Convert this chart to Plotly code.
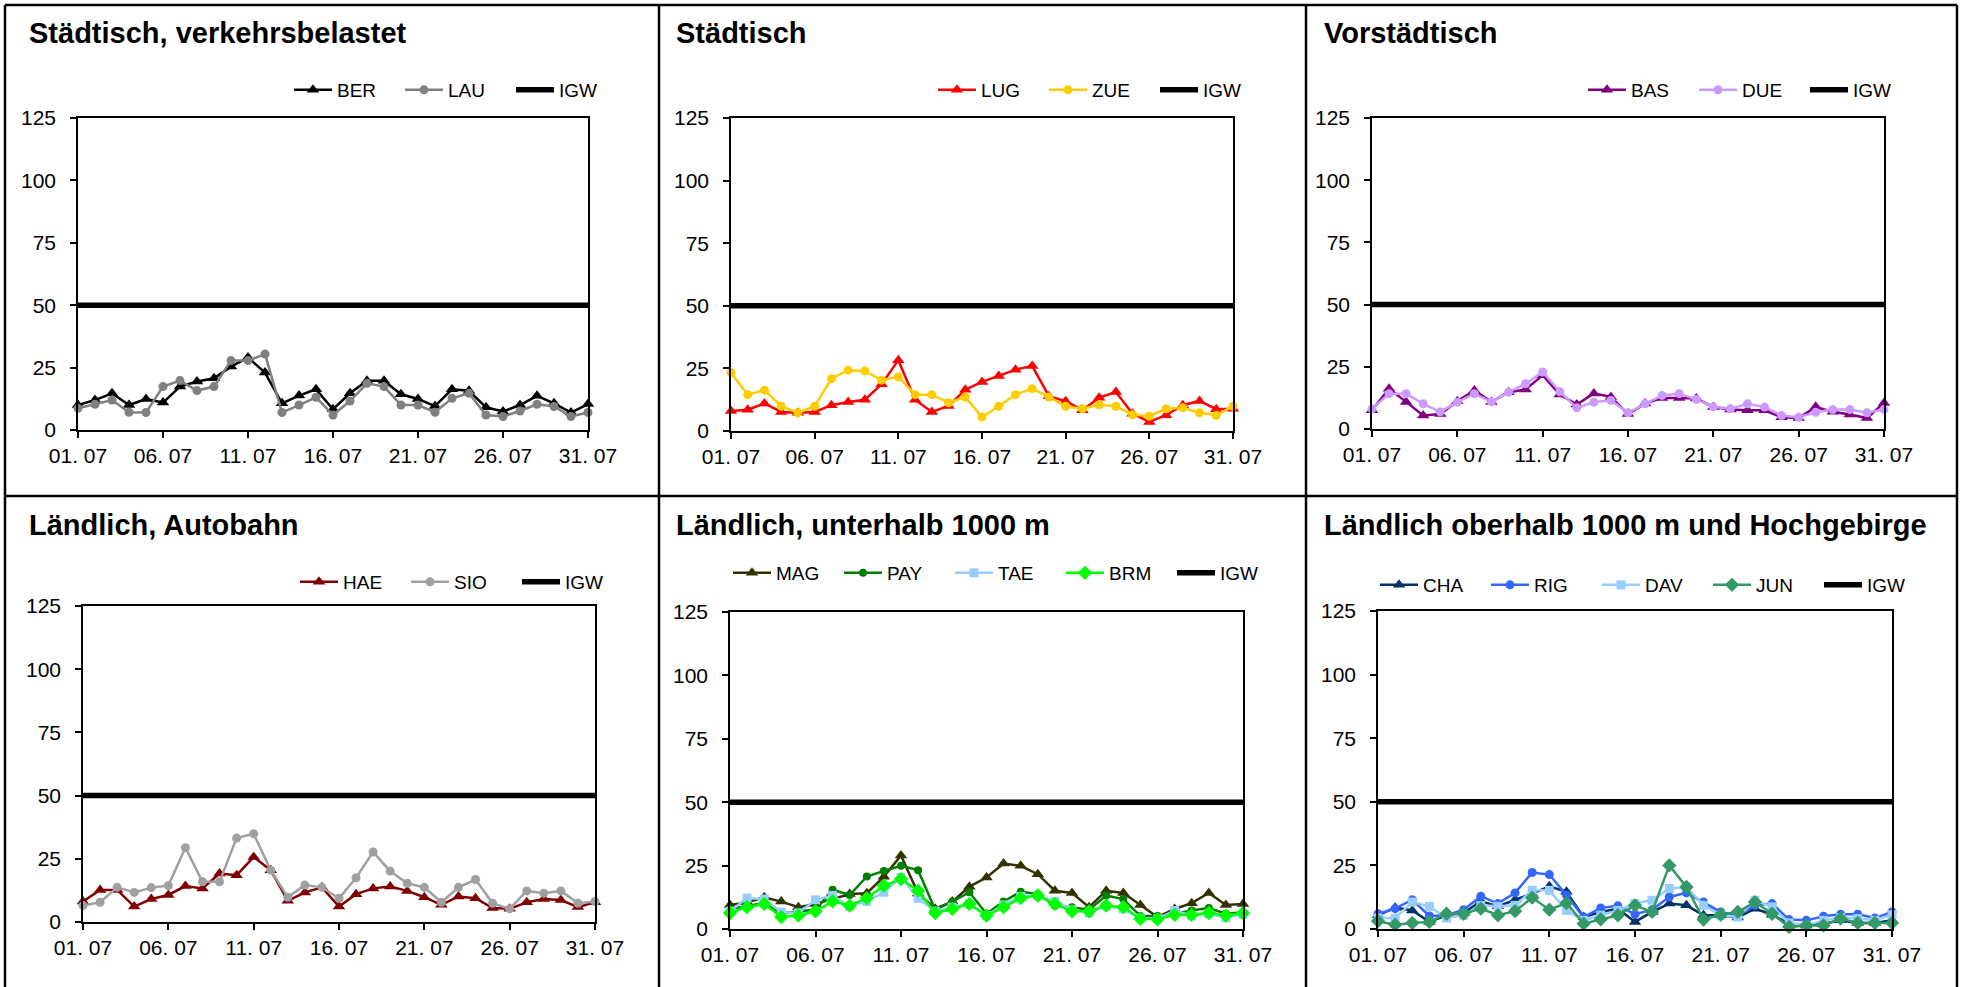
import plotly.graph_objects as go

W, H = 1961, 987

days = list(range(1, 32))
tick_days = [1, 6, 11, 16, 21, 26, 31]
tick_labels = ["01. 07", "06. 07", "11. 07", "16. 07", "21. 07", "26. 07", "31. 07"]
y_ticks = [0, 25, 50, 75, 100, 125]
IGW = 50

titles = ["Städtisch, verkehrsbelastet", "Städtisch", "Vorstädtisch",
          "Ländlich, Autobahn", "Ländlich, unterhalb 1000 m",
          "Ländlich oberhalb 1000 m und Hochgebirge"]

# Panel 1
BER = [10, 12, 14.7, 10, 12.4, 11, 17.4, 19.4, 20.7, 25.4, 29, 23, 10.7, 13.8, 16.3, 8.3,
       14.7, 19.7, 19.7, 14.3, 12.4, 9.6, 16.3, 15.7, 9.1, 7.4, 10, 13.7, 10.7, 7, 10.4]
LAU = [8.7, 10.3, 12, 7.1, 7, 17.4, 19.8, 15.8, 17.4, 27.8, 27.8, 30.4, 7, 10, 13.1, 6,
       11.6, 18.7, 17.4, 10, 10, 7.1, 12.7, 14.7, 6, 5.4, 7.6, 10.3, 9.4, 5.4, 7]
# Panel 2
LUG = [8, 8.5, 11, 7.6, 7.3, 7.6, 10.3, 11.6, 12.5, 18.7, 28.3, 12.5, 7.6, 10, 16.5, 19.6,
       22, 24.5, 26, 13.9, 11.9, 8.3, 13.3, 15.6, 6.9, 3.6, 6.3, 10.3, 12, 8.7, 8.9]
ZUE = [23.3, 14.5, 16.3, 9.9, 7.3, 9.9, 20.9, 24.3, 24, 20.3, 21.6, 14.5, 14.5, 11.3, 13.6, 5.6,
       9.9, 14.5, 16.9, 13.6, 9.9, 8.9, 10.5, 9.9, 6.5, 5.9, 8.9, 9.3, 7.3, 6.3, 9.9]
# Panel 3
BAS = [7.5, 16.2, 10.9, 5.4, 6, 11.2, 15.5, 10.9, 14.8, 15.9, 21.6, 13.9, 9.8, 14.3, 12.9, 6,
       10.2, 12.5, 12.5, 12.3, 8.8, 7.8, 7.5, 7.5, 4.7, 4.4, 8.9, 6.9, 5.8, 4.4, 10.5]
DUE = [8.1, 14.2, 14.2, 10.1, 6.9, 10.8, 14.2, 10.9, 14.8, 18.2, 22.9, 15, 8.5, 10.8, 11.5, 6.5,
       10.1, 13.5, 14.2, 11.9, 8.9, 8.1, 10.1, 8.8, 5.4, 4.7, 6.7, 7.8, 7.8, 6.5, 7.8]
# Panel 4
HAE = [8.1, 12.7, 12.7, 6.1, 9.1, 10.7, 14.2, 13.3, 19.2, 18.5, 25.7, 20.5, 8.4, 11.7, 13.7, 6.1,
       11, 13.3, 14, 12.3, 9.8, 6.8, 10.1, 9.4, 5.5, 5.2, 7.8, 9.1, 8.7, 5.9, 7.8]
SIO = [6.5, 7.8, 13.7, 11.7, 13.6, 14.4, 29.4, 15.9, 15.9, 33.2, 34.9, 20.5, 9.8, 14.6, 13.7, 9.4,
       17.5, 27.7, 20.1, 15.3, 13.7, 7.8, 13.7, 16.8, 7.4, 5.2, 12.3, 11.4, 12.3, 7.4, 8.1]
# Panel 5
MAG = [9.5, 10.5, 12.5, 10.8, 8.6, 9.9, 11.8, 13.8, 14.1, 20.6, 29, 14, 8, 10.8, 16.7, 20.3,
       25.8, 24.9, 21.6, 15.1, 14.2, 8.6, 15.1, 14.2, 9.5, 4.7, 7.9, 10.2, 14.2, 9.5, 9.9]
PAY = [7.9, 9.2, 10.3, 6, 7, 7.6, 15.5, 13.4, 20.7, 22.9, 24.9, 23.2, 7.6, 10.8, 14.5, 6,
       10.8, 14.7, 13.8, 9.2, 8.6, 7.6, 13.2, 11.8, 5.1, 5.1, 6, 7.3, 8.3, 6, 6.6]
TAE = [7, 12.2, 11.8, 6.6, 6.3, 11.5, 13.2, 8.9, 10.9, 14.5, 20.3, 12.1, 7, 8.6, 9.9, 5.3,
       9.5, 12.8, 13.2, 10.9, 7.6, 6.3, 9.2, 7.9, 4.3, 4, 7.3, 5.3, 6, 4.4, 5.7]
BRM = [6.3, 8.6, 9.9, 4.7, 5.3, 7, 10.9, 9.2, 12.2, 17.1, 19.7, 15.1, 6.3, 7.9, 9.9, 5.3,
       8.6, 12.2, 13.2, 9.9, 7, 7, 9.2, 8.6, 4, 3.8, 5.6, 5.6, 6.3, 5.3, 6.3]
# Panel 6
CHA = [5.4, 8.4, 7.3, 2.8, 5.4, 6.3, 11, 8.9, 11.5, 13.9, 16.8, 14.6, 4.7, 6.7, 8, 2.8,
       6.7, 10, 9.3, 5.4, 5.4, 4.5, 8, 5.6, 2.1, 1.4, 2.1, 3.4, 2.4, 2.4, 3.4]
RIG = [6, 8, 11.5, 5.1, 5.4, 7.6, 12.9, 10, 14.2, 22.2, 21.4, 13.3, 4.7, 8.3, 9.1, 5.8,
       7.6, 12.6, 14.2, 10.6, 6.7, 5.4, 9.3, 10, 3.7, 3.4, 5, 5.8, 5.8, 4.3, 6.7]
DAV = [4.3, 4.3, 10.6, 8.9, 4.3, 5.4, 9.3, 8.9, 9.3, 15.2, 15.2, 7.3, 3.4, 5.4, 7.3, 10,
       11.3, 15.9, 16.5, 9.3, 5.4, 4.7, 11.3, 8.7, 2.4, 1.4, 3.4, 4.5, 4.1, 3.4, 5.6]
JUN = [3.1, 1.7, 2.4, 2.8, 6, 6, 8, 5.4, 7, 12.3, 7.6, 10.2, 2.1, 3.8, 5.4, 9.3,
       6.7, 25, 16.5, 3.7, 5.6, 6.7, 10.6, 6, 0.8, 1.4, 1.4, 4.1, 2.4, 2.4, 2.4]

# (name, values, color, marker symbol, marker size) per panel
panels = [
    [("BER", BER, "#000000", "triangle-up", 11), ("LAU", LAU, "#808080", "circle", 9)],
    [("LUG", LUG, "#FF0000", "triangle-up", 11), ("ZUE", ZUE, "#FFCC00", "circle", 9)],
    [("BAS", BAS, "#800080", "triangle-up", 11), ("DUE", DUE, "#CC99FF", "circle", 9)],
    [("HAE", HAE, "#800000", "triangle-up", 11), ("SIO", SIO, "#A0A0A0", "circle", 9)],
    [("MAG", MAG, "#333300", "triangle-up", 11), ("PAY", PAY, "#008000", "circle", 8),
     ("TAE", TAE, "#99CCFF", "square", 9), ("BRM", BRM, "#00FF00", "diamond", 11)],
    [("CHA", CHA, "#003366", "triangle-up", 11), ("RIG", RIG, "#3366FF", "circle", 9),
     ("DAV", DAV, "#99CCFF", "square", 9), ("JUN", JUN, "#339966", "diamond", 11)],
]

# layout geometry in pixels (left, right, top, bottom) of each plot area
plot_px = [(78, 588, 118, 430), (731, 1233, 118, 431), (1372, 1884, 118, 429),
           (83, 595, 606, 922), (730, 1243, 612, 929), (1378, 1892, 611, 929)]
title_px = [(27, 33), (674, 33), (1322, 33), (27, 525), (674, 525), (1322, 525)]
legend_px = [(622, 90), (1266, 90), (1916, 90), (628, 582), (1283, 573), (1930, 585)]

fig = go.Figure()
layout = dict(width=W, height=H, margin=dict(l=0, r=0, t=0, b=0, pad=0, autoexpand=False),
              paper_bgcolor="white", plot_bgcolor="white", template="none",
              font=dict(family="Liberation Sans, Arial, sans-serif", color="black"),
              showlegend=True)

annotations = []
for i, series in enumerate(panels):
    n = i + 1
    sfx = "" if n == 1 else str(n)
    xa, ya = "x" + sfx, "y" + sfx
    leg = "legend" + sfx
    for name, vals, col, sym, msize in series:
        assert len(vals) == 31
        fig.add_trace(go.Scatter(x=days, y=vals, mode="lines+markers", name=name,
                                 line=dict(color=col, width=2.5),
                                 marker=dict(symbol=sym, size=msize, color=col, line=dict(width=0)),
                                 cliponaxis=False, xaxis=xa, yaxis=ya, legend=leg))
    fig.add_trace(go.Scatter(x=days, y=[IGW] * len(days), mode="lines", name="IGW",
                             line=dict(color="black", width=5.5),
                             cliponaxis=False, xaxis=xa, yaxis=ya, legend=leg))
    l, r, t, b = plot_px[i]
    layout["xaxis" + sfx] = dict(domain=[l / W, r / W], range=[1, 31], anchor=ya,
                                 tickmode="array", tickvals=tick_days, ticktext=tick_labels,
                                 ticks="outside", ticklen=6, tickcolor="black", tickwidth=1.5,
                                 showline=True, linecolor="black", linewidth=1.5,
                                 mirror=True, showgrid=False, zeroline=False,
                                 automargin=False, tickfont=dict(size=21))
    layout["yaxis" + sfx] = dict(domain=[1 - b / H, 1 - t / H], range=[0, 125], anchor=xa,
                                 tickmode="array", tickvals=y_ticks,
                                 ticks="outside", ticklen=6, tickcolor="black", tickwidth=1.5,
                                 showline=True, linecolor="black", linewidth=1.5,
                                 mirror=True, showgrid=False, zeroline=False,
                                 automargin=False, ticklabelstandoff=10,
                                 tickfont=dict(size=21))
    lx, ly = legend_px[i]
    layout[leg] = dict(orientation="h", x=lx / W, xanchor="right", y=1 - ly / H,
                       yanchor="middle", font=dict(size=19), bgcolor="rgba(0,0,0,0)",
                       itemwidth=38, entrywidth=58, entrywidthmode="pixels",
                       tracegroupgap=0, itemclick=False)
    tx, ty = title_px[i]
    annotations.append(dict(text="<b>" + titles[i] + "</b>", x=tx / W, y=1 - ty / H,
                            xref="paper", yref="paper", xanchor="left", yanchor="middle",
                            showarrow=False, font=dict(size=29, color="black")))

layout["annotations"] = annotations

# table frame lines
frame = []
def pline(x0, y0, x1, y1):
    frame.append(dict(type="line", xref="paper", yref="paper",
                      x0=x0 / W, y0=1 - y0 / H, x1=x1 / W, y1=1 - y1 / H,
                      line=dict(color="black", width=2.5)))
pline(5, 5, 1957, 5)
pline(5, 5, 5, 987)
pline(1957, 5, 1957, 987)
pline(659, 5, 659, 987)
pline(1306, 5, 1306, 987)
pline(5, 496, 1957, 496)
layout["shapes"] = frame

fig.update_layout(**layout)
fig.write_html("out.html", config={"displayModeBar": False},
               post_script="document.body.style.margin='0px';document.body.style.overflow='hidden';")
